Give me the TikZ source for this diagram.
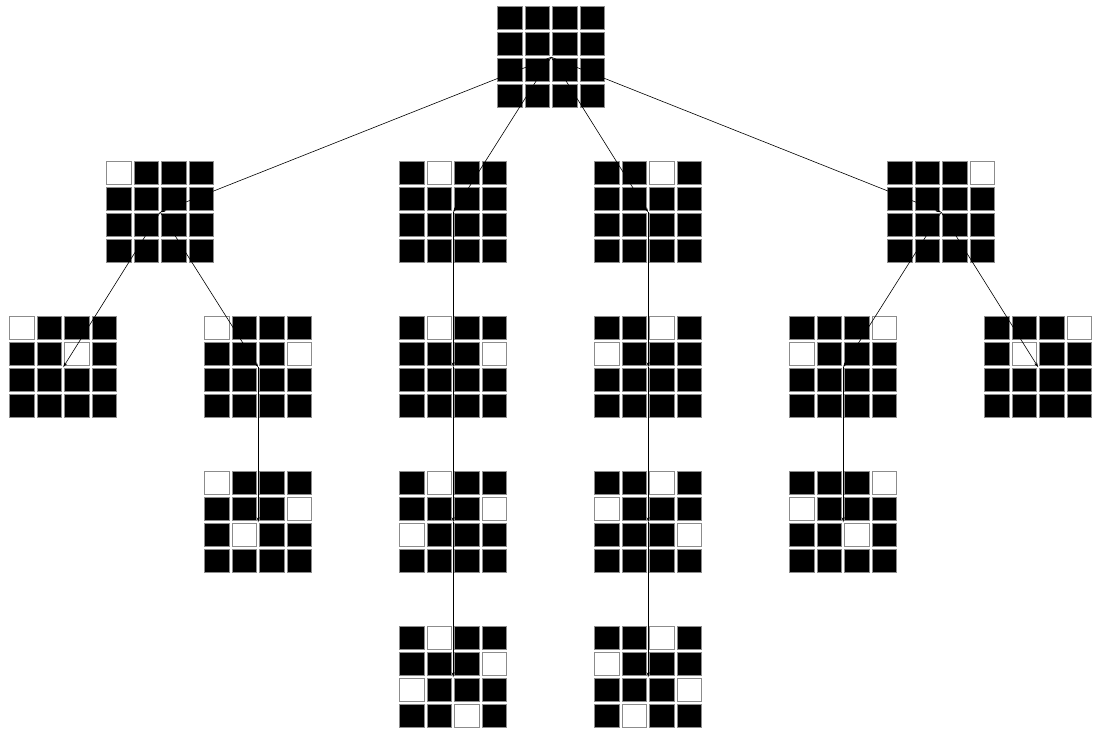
\documentclass[tikz,border=0pt]{standalone}
\usepackage{tikz}
\usetikzlibrary{arrows.meta}
\usepackage{xcolor}
\definecolor{cellline}{HTML}{8C8C8C}
\tikzset{
  boardbox/.style={minimum width=110pt,minimum height=104pt,inner sep=0pt,anchor=north west},
  blackcell/.style={fill=black,draw=cellline,line width=0.8pt},
  whitecell/.style={fill=white,draw=cellline,line width=0.8pt},
  branch/.style={draw=black,line width=0.6pt,-{Stealth[length=5pt,width=3pt]}},
}
% one 4x4 board: name, left, top, queens as row/col
\newcommand{\qboard}[4]{%
  \node[boardbox] (#1) at (#2,#3) {};
  \foreach \r in {1,...,4}
    \foreach \c in {1,...,4}
      \path[blackcell] ({#2+(\c-1)*27.5+1.5},{#3+(\r-1)*26+1.5}) rectangle ++(24.5,23);
  \foreach \r/\c in {#4}
    \path[whitecell] ({#2+(\c-1)*27.5+1.5},{#3+(\r-1)*26+1.5}) rectangle ++(24.5,23);
}

\begin{document}
\begin{tikzpicture}[x=1pt,y=-1pt]
  \useasboundingbox (0,0) rectangle (1096,733);

  % root
  \node[boardbox] (root) at (496,5) {};
  \foreach \r in {1,...,4}
    \foreach \c in {1,...,4}
      \path[blackcell] ({496+(\c-1)*27.5+1.5},{5+(\r-1)*26+1.5}) rectangle ++(24.5,23);

  % first queen
  \qboard{b1}{105}{160}{1/1}
  \qboard{b2}{398}{160}{1/2}
  \qboard{b3}{593}{160}{1/3}
  \qboard{b4}{886}{160}{1/4}

  % second queen
  \qboard{b13}{8}{315}{1/1,2/3}
  \qboard{b14}{203}{315}{1/1,2/4}
  \qboard{b24}{398}{315}{1/2,2/4}
  \qboard{b31}{593}{315}{1/3,2/1}
  \qboard{b41}{788}{315}{1/4,2/1}
  \qboard{b42}{983}{315}{1/4,2/2}

  % third queen
  \qboard{b142}{203}{470}{1/1,2/4,3/2}
  \qboard{b241}{398}{470}{1/2,2/4,3/1}
  \qboard{b314}{593}{470}{1/3,2/1,3/4}
  \qboard{b413}{788}{470}{1/4,2/1,3/3}

  % solutions
  \qboard{b2413}{398}{625}{1/2,2/4,3/1,4/3}
  \qboard{b3142}{593}{625}{1/3,2/1,3/4,4/2}

  % branches
  \draw[branch] (root.center) -- (b1.center);
  \draw[branch] (root.center) -- (b2.center);
  \draw[branch] (root.center) -- (b3.center);
  \draw[branch] (root.center) -- (b4.center);
  \draw[branch] (b1.center) -- (b13.center);
  \draw[branch] (b1.center) -- (b14.center);
  \draw[branch] (b2.center) -- (b24.center);
  \draw[branch] (b3.center) -- (b31.center);
  \draw[branch] (b4.center) -- (b41.center);
  \draw[branch] (b4.center) -- (b42.center);
  \draw[branch] (b14.center) -- (b142.center);
  \draw[branch] (b24.center) -- (b241.center);
  \draw[branch] (b31.center) -- (b314.center);
  \draw[branch] (b41.center) -- (b413.center);
  \draw[branch] (b241.center) -- (b2413.center);
  \draw[branch] (b314.center) -- (b3142.center);
\end{tikzpicture}
\end{document}
